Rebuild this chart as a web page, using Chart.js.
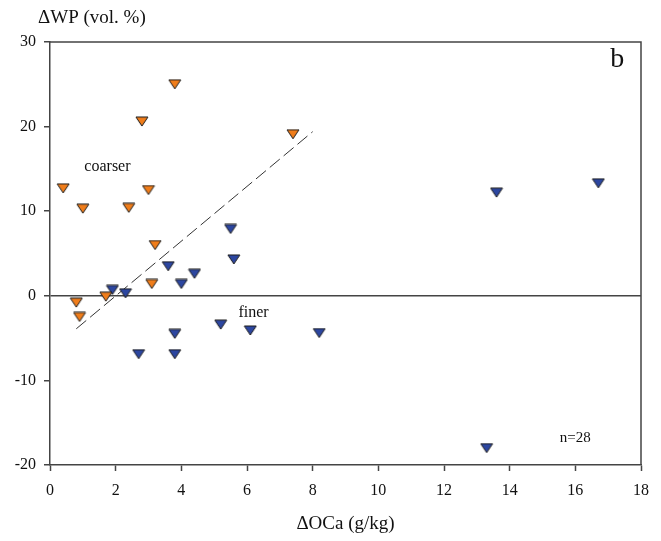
<!DOCTYPE html>
<html>
<head>
<meta charset="utf-8">
<script src="https://cdn.jsdelivr.net/npm/chart.js@4.4.1/dist/chart.umd.min.js"></script>
<style>
  html, body { margin: 0; padding: 0; background: #fff; }
  #wrap { width: 661px; height: 541px; }
</style>
</head>
<body>
<div id="wrap"><canvas id="wpChart" width="661" height="541"></canvas></div>
<script>
// coarser samples (orange) and finer samples (blue)
const coarserX = [0.4, 0.8, 0.9, 1.0, 1.7, 2.4, 2.8, 3.0, 3.1, 3.2, 3.8, 7.4];
const coarserY = [12.7, -0.8, -2.5, 10.3, -0.1, 10.4, 20.6, 12.5, 1.4, 6.0, 25.0, 19.1];
const finerX = [1.9, 2.3, 2.7, 3.6, 3.8, 3.8, 4.0, 4.4, 5.2, 5.5, 5.6, 6.1, 8.2, 13.3, 13.6, 16.7];
const finerY = [0.7, 0.3, -6.9, 3.5, -4.5, -6.9, 1.4, 2.6, -3.4, 7.9, 4.3, -4.1, -4.4, -18.0, 12.2, 13.3];

// regression line end points
const fitX = [0.8, 8.0];
const fitY = [-3.9, 19.4];

const xTicks = [0, 2, 4, 6, 8, 10, 12, 14, 16, 18];
const yTicks = [-20, -10, 0, 10, 20, 30];

const SERIF = "'Liberation Serif', 'Times New Roman', serif";
const AXIS = "#444";

function toPoints(xs, ys) {
  return xs.map((x, i) => ({ x: x, y: ys[i] }));
}

// downward triangle marker
function triangle(fill) {
  const c = document.createElement("canvas");
  c.width = 14;
  c.height = 11;
  const g = c.getContext("2d");
  g.beginPath();
  g.moveTo(1, 1);
  g.lineTo(13, 1);
  g.lineTo(7, 10);
  g.closePath();
  g.fillStyle = fill;
  g.fill();
  g.lineWidth = 1;
  g.strokeStyle = "#1a1a1a";
  g.stroke();
  return c;
}

// frame on top/right plus text labels
const extras = {
  id: "extras",
  afterDraw(chart) {
    const { ctx, chartArea: a, scales } = chart;
    const sx = scales.x, sy = scales.y;
    ctx.save();
    ctx.strokeStyle = AXIS;
    ctx.lineWidth = 1.5;
    ctx.beginPath();
    ctx.moveTo(a.left, a.top);
    ctx.lineTo(a.right, a.top);
    ctx.lineTo(a.right, a.bottom);
    ctx.stroke();

    ctx.fillStyle = "#111";
    ctx.textBaseline = "middle";
    ctx.textAlign = "left";
    ctx.font = "19px " + SERIF;
    ctx.fillText("ΔWP (vol. %)", a.left - 12, 18);

    ctx.textAlign = "center";
    ctx.fillText("ΔOCa (g/kg)", (a.left + a.right) / 2, a.bottom + 59);

    ctx.font = "16px " + SERIF;
    ctx.fillText("coarser", sx.getPixelForValue(1.75), sy.getPixelForValue(15.2));
    ctx.fillText("finer", sx.getPixelForValue(6.2), sy.getPixelForValue(-2.0));
    ctx.font = "15px " + SERIF;
    ctx.fillText("n=28", sx.getPixelForValue(16.0), sy.getPixelForValue(-16.8));

    ctx.font = "28px " + SERIF;
    ctx.fillText("b", sx.getPixelForValue(17.28), sy.getPixelForValue(27.9));
    ctx.restore();
  }
};

new Chart(document.getElementById("wpChart"), {
  type: "scatter",
  data: {
    datasets: [
      {
        label: "fit",
        type: "line",
        data: toPoints(fitX, fitY),
        borderColor: "#333",
        borderWidth: 1,
        borderDash: [13, 5],
        pointRadius: 0,
        fill: false,
        order: 3
      },
      {
        label: "coarser",
        data: toPoints(coarserX, coarserY),
        pointStyle: triangle("#f07d1a"),
        order: 1
      },
      {
        label: "finer",
        data: toPoints(finerX, finerY),
        pointStyle: triangle("#2c46a0"),
        order: 1
      }
    ]
  },
  options: {
    responsive: false,
    animation: false,
    layout: { padding: { top: 42, right: 20, left: 0, bottom: 0 } },
    plugins: {
      legend: { display: false },
      tooltip: { enabled: false }
    },
    scales: {
      x: {
        type: "linear",
        min: 0,
        max: 18,
        afterBuildTicks: s => { s.ticks = xTicks.map(v => ({ value: v })); },
        afterFit: s => { s.height = 76; },
        border: { color: AXIS, width: 1.5 },
        grid: { drawOnChartArea: false, tickLength: 6, tickColor: AXIS, tickWidth: 1.5 },
        ticks: { color: "#111", padding: 10, font: { family: SERIF, size: 16 }, maxRotation: 0 }
      },
      y: {
        type: "linear",
        min: -20,
        max: 30,
        afterBuildTicks: s => { s.ticks = yTicks.map(v => ({ value: v })); },
        afterFit: s => { s.width = 50; },
        border: { color: AXIS, width: 1.5 },
        grid: {
          color: c => (c.tick && c.tick.value === 0 ? AXIS : "rgba(0,0,0,0)"),
          lineWidth: 1.5,
          tickLength: 6,
          tickColor: AXIS,
          tickWidth: 1.5
        },
        ticks: { color: "#111", padding: 8, font: { family: SERIF, size: 16 } }
      }
    }
  },
  plugins: [extras]
});
</script>
</body>
</html>
